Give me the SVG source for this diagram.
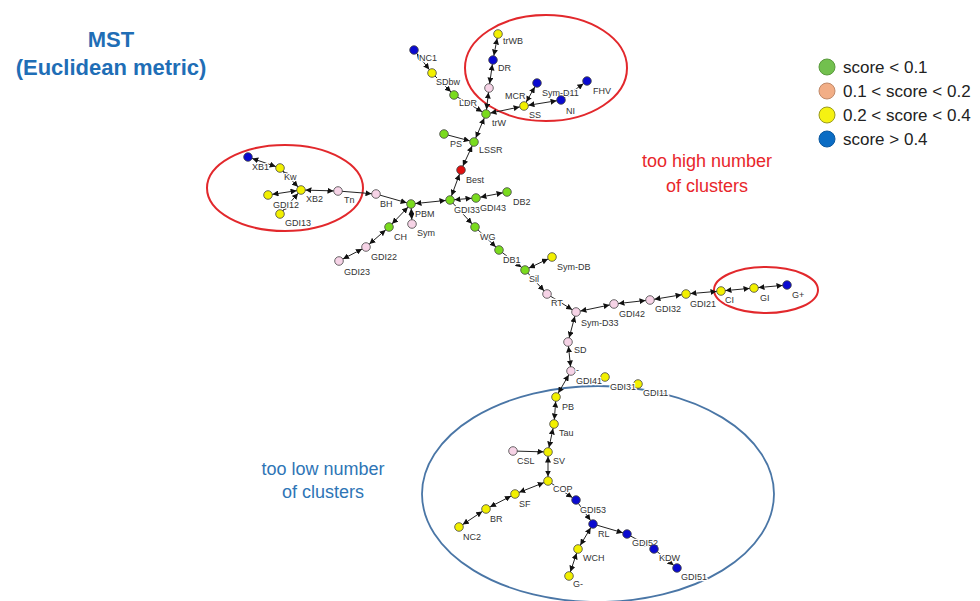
<svg xmlns="http://www.w3.org/2000/svg" width="980" height="601" viewBox="0 0 980 601">
<style>
.e{stroke:#222;stroke-width:1;fill:none;marker-end:url(#ah)}
.b{marker-start:url(#ah)}
.n{stroke:#444;stroke-width:0.8}
.G{fill:#7ADB1E}.P{fill:#F6D3E6}.Y{fill:#F2F000}.B{fill:#0A0AD0}.R{fill:#E01010}
.l{font-family:"Liberation Sans",Arial,sans-serif;font-size:9px;fill:#333;stroke:#fff;stroke-width:2.5px;paint-order:stroke;stroke-linejoin:round}
.lg{font-family:"Liberation Sans",Arial,sans-serif;font-size:17px;fill:#222}
</style>
<defs>
<marker id="ah" viewBox="0 0 6 6" refX="10.5" refY="3" markerWidth="6" markerHeight="6" markerUnits="userSpaceOnUse" orient="auto-start-reverse">
<path d="M0,0 L6,3 L0,6 z" fill="#111"/>
</marker>
</defs>
<rect width="980" height="601" fill="#fff"/>
<g id="title" font-family="'Liberation Sans',Arial,sans-serif" font-weight="bold" font-size="22" fill="#1F6EB6" text-anchor="middle">
<text x="111" y="47">MST</text>
<text x="111" y="75">(Euclidean metric)</text>
</g>
<g id="annotations" font-family="'Liberation Sans',Arial,sans-serif" font-size="18" text-anchor="middle">
<ellipse cx="546" cy="68" rx="81" ry="53" fill="none" stroke="#E2282C" stroke-width="2"/>
<ellipse cx="285" cy="188" rx="78" ry="43" fill="none" stroke="#E2282C" stroke-width="2"/>
<ellipse cx="766" cy="290" rx="52" ry="23" fill="none" stroke="#E2282C" stroke-width="2"/>
<ellipse cx="598" cy="494" rx="176" ry="108" fill="none" stroke="#4A76A6" stroke-width="1.8"/>
<text x="707" y="167" fill="#E8262B">too high number</text>
<text x="707" y="192" fill="#E8262B">of clusters</text>
<text x="323" y="475" fill="#2E75B6">too low number</text>
<text x="323" y="498" fill="#2E75B6">of clusters</text>
</g>
<g id="legend">
<circle cx="827" cy="67" r="8" fill="#72C04E" stroke="#5A9A3C"/>
<circle cx="827" cy="91" r="8" fill="#F2AE86" stroke="#C08A6A"/>
<circle cx="827" cy="115" r="8" fill="#F5F212" stroke="#9A9A20"/>
<circle cx="827" cy="139" r="8" fill="#0A6CC4" stroke="#0A58A0"/>
<text class="lg" x="843" y="73">score &lt; 0.1</text>
<text class="lg" x="843" y="97">0.1 &lt; score &lt; 0.2</text>
<text class="lg" x="843" y="121">0.2 &lt; score &lt; 0.4</text>
<text class="lg" x="843" y="145">score &gt; 0.4</text>
</g>
<g id="connectors">
<line class="e b" x1="498" y1="34" x2="493" y2="60"/>
<line class="e b" x1="493" y1="60" x2="489" y2="88"/>
<line class="e b" x1="489" y1="88" x2="486" y2="114"/>
<line class="e b" x1="414" y1="50" x2="432" y2="73"/>
<line class="e" x1="432" y1="73" x2="454" y2="95"/>
<line class="e" x1="454" y1="95" x2="486" y2="114"/>
<line class="e b" x1="486" y1="114" x2="524" y2="106"/>
<line class="e b" x1="524" y1="106" x2="537" y2="83"/>
<line class="e b" x1="524" y1="106" x2="561" y2="100"/>
<line class="e b" x1="561" y1="100" x2="587" y2="81"/>
<line class="e b" x1="486" y1="114" x2="474" y2="142"/>
<line class="e" x1="444" y1="134" x2="474" y2="142"/>
<line class="e b" x1="474" y1="142" x2="461" y2="170"/>
<line class="e b" x1="461" y1="170" x2="450" y2="200"/>
<line class="e b" x1="450" y1="200" x2="476" y2="198"/>
<line class="e b" x1="476" y1="198" x2="507" y2="192"/>
<line class="e b" x1="450" y1="200" x2="411" y2="204"/>
<line class="e" x1="450" y1="200" x2="475" y2="227"/>
<line class="e" x1="475" y1="227" x2="499" y2="250"/>
<line class="e" x1="499" y1="250" x2="525" y2="270"/>
<line class="e b" x1="525" y1="270" x2="552" y2="257"/>
<line class="e" x1="525" y1="270" x2="547" y2="294"/>
<line class="e" x1="547" y1="294" x2="576" y2="312"/>
<line class="e b" x1="576" y1="312" x2="614" y2="304"/>
<line class="e b" x1="614" y1="304" x2="650" y2="300"/>
<line class="e b" x1="650" y1="300" x2="686" y2="294"/>
<line class="e b" x1="686" y1="294" x2="721" y2="291"/>
<line class="e b" x1="721" y1="291" x2="754" y2="288"/>
<line class="e b" x1="754" y1="288" x2="787" y2="285"/>
<line class="e b" x1="576" y1="312" x2="568" y2="342"/>
<line class="e b" x1="568" y1="342" x2="571" y2="371"/>
<line class="e b" x1="571" y1="371" x2="556" y2="397"/>
<line class="e b" x1="556" y1="397" x2="554" y2="424"/>
<line class="e b" x1="554" y1="424" x2="548" y2="452"/>
<line class="e" x1="513" y1="451" x2="548" y2="452"/>
<line class="e b" x1="548" y1="452" x2="548" y2="481"/>
<line class="e b" x1="548" y1="481" x2="515" y2="494"/>
<line class="e b" x1="515" y1="494" x2="486" y2="509"/>
<line class="e b" x1="486" y1="509" x2="459" y2="527"/>
<line class="e" x1="548" y1="481" x2="576" y2="500"/>
<line class="e" x1="576" y1="500" x2="593" y2="524"/>
<line class="e" x1="593" y1="524" x2="627" y2="534"/>
<line class="e" x1="627" y1="534" x2="654" y2="549"/>
<line class="e" x1="654" y1="549" x2="677" y2="568"/>
<line class="e b" x1="593" y1="524" x2="578" y2="549"/>
<line class="e b" x1="578" y1="549" x2="569" y2="576"/>
<line class="e" x1="376" y1="194" x2="411" y2="204"/>
<line class="e" x1="338" y1="191" x2="376" y2="194"/>
<line class="e b" x1="301" y1="190" x2="338" y2="191"/>
<line class="e b" x1="301" y1="190" x2="268" y2="195"/>
<line class="e b" x1="301" y1="190" x2="280" y2="214"/>
<line class="e b" x1="280" y1="168" x2="301" y2="190"/>
<line class="e b" x1="248" y1="157" x2="280" y2="168"/>
<line class="e b" x1="411" y1="204" x2="412" y2="224"/>
<line class="e b" x1="411" y1="204" x2="389" y2="227"/>
<line class="e b" x1="389" y1="227" x2="366" y2="247"/>
<line class="e b" x1="366" y1="247" x2="339" y2="261"/>
</g>
<g id="n-trWB"><circle class="n Y" cx="498" cy="34" r="4.3"/><text class="l" x="503" y="44">trWB</text></g>
<g id="n-DR"><circle class="n B" cx="493" cy="60" r="4.3"/><text class="l" x="498" y="71">DR</text></g>
<g id="n-MCR"><circle class="n P" cx="489" cy="88" r="4.3"/><text class="l" x="505" y="99">MCR</text></g>
<g id="n-NC1"><circle class="n B" cx="414" cy="50" r="4.3"/><text class="l" x="419" y="61">NC1</text></g>
<g id="n-SDbw"><circle class="n Y" cx="432" cy="73" r="4.3"/><text class="l" x="436" y="85">SDbw</text></g>
<g id="n-LDR"><circle class="n G" cx="454" cy="95" r="4.3"/><text class="l" x="459" y="106">LDR</text></g>
<g id="n-trW"><circle class="n G" cx="486" cy="114" r="4.3"/><text class="l" x="492" y="126">trW</text></g>
<g id="n-SS"><circle class="n Y" cx="524" cy="106" r="4.3"/><text class="l" x="529" y="118">SS</text></g>
<g id="n-Sym-D11"><circle class="n B" cx="537" cy="83" r="4.3"/><text class="l" x="542" y="96">Sym-D11</text></g>
<g id="n-FHV"><circle class="n B" cx="587" cy="81" r="4.3"/><text class="l" x="593" y="94">FHV</text></g>
<g id="n-NI"><circle class="n B" cx="561" cy="100" r="4.3"/><text class="l" x="566" y="114">NI</text></g>
<g id="n-PS"><circle class="n G" cx="444" cy="134" r="4.3"/><text class="l" x="450" y="147">PS</text></g>
<g id="n-LSSR"><circle class="n G" cx="474" cy="142" r="4.3"/><text class="l" x="479" y="153">LSSR</text></g>
<g id="n-Best"><circle class="n R" cx="461" cy="170" r="4.3"/><text class="l" x="466" y="183">Best</text></g>
<g id="n-XB1"><circle class="n B" cx="248" cy="157" r="4.3"/><text class="l" x="252" y="170">XB1</text></g>
<g id="n-Kw"><circle class="n Y" cx="280" cy="168" r="4.3"/><text class="l" x="284" y="180">Kw</text></g>
<g id="n-XB2"><circle class="n Y" cx="301" cy="190" r="4.3"/><text class="l" x="306" y="202">XB2</text></g>
<g id="n-GDI12"><circle class="n Y" cx="268" cy="195" r="4.3"/><text class="l" x="273" y="208">GDI12</text></g>
<g id="n-GDI13"><circle class="n Y" cx="280" cy="214" r="4.3"/><text class="l" x="285" y="226">GDI13</text></g>
<g id="n-Tn"><circle class="n P" cx="338" cy="191" r="4.3"/><text class="l" x="344" y="203">Tn</text></g>
<g id="n-BH"><circle class="n P" cx="376" cy="194" r="4.3"/><text class="l" x="380" y="207">BH</text></g>
<g id="n-PBM"><circle class="n G" cx="411" cy="204" r="4.3"/><text class="l" x="415" y="217">PBM</text></g>
<g id="n-Sym"><circle class="n P" cx="412" cy="224" r="4.3"/><text class="l" x="417" y="236">Sym</text></g>
<g id="n-CH"><circle class="n G" cx="389" cy="227" r="4.3"/><text class="l" x="394" y="240">CH</text></g>
<g id="n-GDI22"><circle class="n P" cx="366" cy="247" r="4.3"/><text class="l" x="371" y="260">GDI22</text></g>
<g id="n-GDI23"><circle class="n P" cx="339" cy="261" r="4.3"/><text class="l" x="344" y="275">GDI23</text></g>
<g id="n-GDI33"><circle class="n G" cx="450" cy="200" r="4.3"/><text class="l" x="454" y="213">GDI33</text></g>
<g id="n-GDI43"><circle class="n G" cx="476" cy="198" r="4.3"/><text class="l" x="480" y="211">GDI43</text></g>
<g id="n-DB2"><circle class="n G" cx="507" cy="192" r="4.3"/><text class="l" x="513" y="205">DB2</text></g>
<g id="n-WG"><circle class="n G" cx="475" cy="227" r="4.3"/><text class="l" x="480" y="240">WG</text></g>
<g id="n-DB1"><circle class="n G" cx="499" cy="250" r="4.3"/><text class="l" x="503" y="263">DB1</text></g>
<g id="n-Sil"><circle class="n G" cx="525" cy="270" r="4.3"/><text class="l" x="529" y="282">Sil</text></g>
<g id="n-Sym-DB"><circle class="n Y" cx="552" cy="257" r="4.3"/><text class="l" x="557" y="270">Sym-DB</text></g>
<g id="n-RT"><circle class="n P" cx="547" cy="294" r="4.3"/><text class="l" x="551" y="306">RT</text></g>
<g id="n-Sym-D33"><circle class="n P" cx="576" cy="312" r="4.3"/><text class="l" x="581" y="326">Sym-D33</text></g>
<g id="n-GDI42"><circle class="n P" cx="614" cy="304" r="4.3"/><text class="l" x="619" y="317">GDI42</text></g>
<g id="n-GDI32"><circle class="n P" cx="650" cy="300" r="4.3"/><text class="l" x="655" y="312">GDI32</text></g>
<g id="n-GDI21"><circle class="n Y" cx="686" cy="294" r="4.3"/><text class="l" x="690" y="307">GDI21</text></g>
<g id="n-CI"><circle class="n Y" cx="721" cy="291" r="4.3"/><text class="l" x="725" y="303">CI</text></g>
<g id="n-GI"><circle class="n Y" cx="754" cy="288" r="4.3"/><text class="l" x="760" y="301">GI</text></g>
<g id="n-Gplus"><circle class="n B" cx="787" cy="285" r="4.3"/><text class="l" x="792" y="298">G+</text></g>
<g id="n-SD"><circle class="n P" cx="568" cy="342" r="4.3"/><text class="l" x="574" y="353">SD</text></g>
<g id="n-dash"><circle class="n P" cx="571" cy="371" r="4.3"/><text class="l" x="576" y="373">-</text></g>
<g id="n-GDI41"><circle class="n Y" cx="605" cy="377" r="4.3"/><text class="l" x="576" y="384">GDI41</text></g>
<g id="n-GDI31"><circle class="n Y" cx="638" cy="384" r="4.3"/><text class="l" x="610" y="390">GDI31</text><text class="l" x="643" y="396">GDI11</text></g>
<g id="n-PB"><circle class="n Y" cx="556" cy="397" r="4.3"/><text class="l" x="562" y="410">PB</text></g>
<g id="n-Tau"><circle class="n Y" cx="554" cy="424" r="4.3"/><text class="l" x="559" y="436">Tau</text></g>
<g id="n-CSL"><circle class="n P" cx="513" cy="451" r="4.3"/><text class="l" x="517" y="464">CSL</text></g>
<g id="n-SV"><circle class="n Y" cx="548" cy="452" r="4.3"/><text class="l" x="553" y="464">SV</text></g>
<g id="n-COP"><circle class="n Y" cx="548" cy="481" r="4.3"/><text class="l" x="553" y="492">COP</text></g>
<g id="n-SF"><circle class="n Y" cx="515" cy="494" r="4.3"/><text class="l" x="519" y="507">SF</text></g>
<g id="n-BR"><circle class="n Y" cx="486" cy="509" r="4.3"/><text class="l" x="490" y="522">BR</text></g>
<g id="n-NC2"><circle class="n Y" cx="459" cy="527" r="4.3"/><text class="l" x="463" y="540">NC2</text></g>
<g id="n-GDI53"><circle class="n B" cx="576" cy="500" r="4.3"/><text class="l" x="580" y="513">GDI53</text></g>
<g id="n-RL"><circle class="n B" cx="593" cy="524" r="4.3"/><text class="l" x="598" y="537">RL</text></g>
<g id="n-GDI52"><circle class="n B" cx="627" cy="534" r="4.3"/><text class="l" x="632" y="546">GDI52</text></g>
<g id="n-KDW"><circle class="n B" cx="654" cy="549" r="4.3"/><text class="l" x="659" y="561">KDW</text></g>
<g id="n-GDI51"><circle class="n B" cx="677" cy="568" r="4.3"/><text class="l" x="681" y="580">GDI51</text></g>
<g id="n-WCH"><circle class="n Y" cx="578" cy="549" r="4.3"/><text class="l" x="583" y="561">WCH</text></g>
<g id="n-Gminus"><circle class="n Y" cx="569" cy="576" r="4.3"/><text class="l" x="573" y="587">G-</text></g>
</svg>
